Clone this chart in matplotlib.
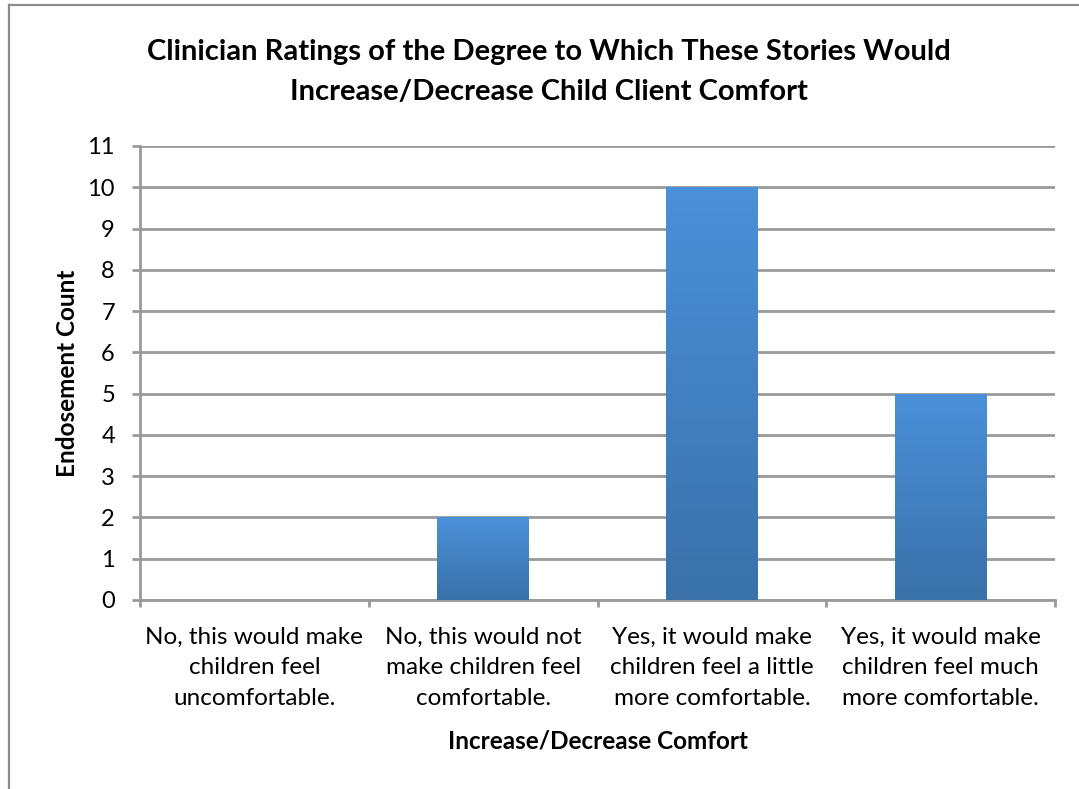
import numpy as np
import matplotlib
matplotlib.use("Agg")
import matplotlib.pyplot as plt
from matplotlib.lines import Line2D
from matplotlib.colors import LinearSegmentedColormap

categories = [
    "No, this would make\nchildren feel\nuncomfortable.",
    "No, this would not\nmake children feel\ncomfortable.",
    "Yes, it would make\nchildren feel a little\nmore comfortable.",
    "Yes, it would make\nchildren feel much\nmore comfortable.",
]
counts = [0, 2, 10, 5]
yticks = list(range(0, 12))

title = ("Clinician Ratings of the Degree to Which These Stories Would\n"
         "Increase/Decrease Child Client Comfort")
xlabel = "Increase/Decrease Comfort"
ylabel = "Endosement Count"

plt.rcParams['font.family'] = ['Lato', 'DejaVu Sans']
grid_col = '#9a9a9a'

W, H = 1079, 789
fig = plt.figure(figsize=(W / 100, H / 100), dpi=100)
ax = fig.add_axes([140 / W, 1 - 600 / H, (1055 - 140) / W, (600 - 146) / H])

x = np.arange(len(categories))
bars = ax.bar(x, counts, width=0.4, color='#4282c8', zorder=3)

# vertical gradient inside each bar
cmap = LinearSegmentedColormap.from_list('g', ['#3a71a9', '#4a91d9'])
grad = np.linspace(0, 1, 256).reshape(-1, 1)
for b in bars:
    if b.get_height() <= 0:
        continue
    x0, w, h = b.get_x(), b.get_width(), b.get_height()
    im = ax.imshow(grad, cmap=cmap, origin='lower', aspect='auto',
                   extent=[x0, x0 + w, 0, h], zorder=4)
    im.set_clip_path(b)

ax.set_xlim(-0.5, len(categories) - 0.5)
ax.set_ylim(0, 11)
ax.set_yticks(yticks)
ax.set_yticklabels([str(v) for v in yticks], fontsize=17)
ax.yaxis.grid(True, color=grid_col, linewidth=2, zorder=0)
ax.set_axisbelow(True)

ax.set_xticks(x)
ax.set_xticklabels(categories, fontsize=17.5, linespacing=1.58)
ax.set_xticks(np.arange(-0.5, len(categories)), minor=True)
ax.tick_params(axis='x', which='major', length=0, pad=19)
ax.tick_params(axis='x', which='minor', length=5, width=2, color=grid_col, direction='out')
ax.tick_params(axis='y', length=6, width=2, color=grid_col, pad=12)

for s in ['top', 'right']:
    ax.spines[s].set_visible(False)
for s in ['left', 'bottom']:
    ax.spines[s].set_color(grid_col)
    ax.spines[s].set_linewidth(2)

ax.set_ylabel(ylabel, fontsize=17.5, fontweight='bold', labelpad=6)
ax.set_xlabel(xlabel, fontsize=17.5, fontweight='bold', labelpad=15)

fig.text(549 / W, 1 - 72 / H, title, ha='center', va='center', fontsize=21,
         fontweight='bold', linespacing=1.68)

# outer chart border (cut off at right and bottom)
fig.add_artist(Line2D([8.5 / W, 8.5 / W], [0, 1 - 4.5 / H], color='#8c8c8c', lw=1.6))
fig.add_artist(Line2D([8.5 / W, 1], [1 - 4.5 / H, 1 - 4.5 / H], color='#8c8c8c', lw=1.6))

fig.savefig('out.png', dpi=100)
